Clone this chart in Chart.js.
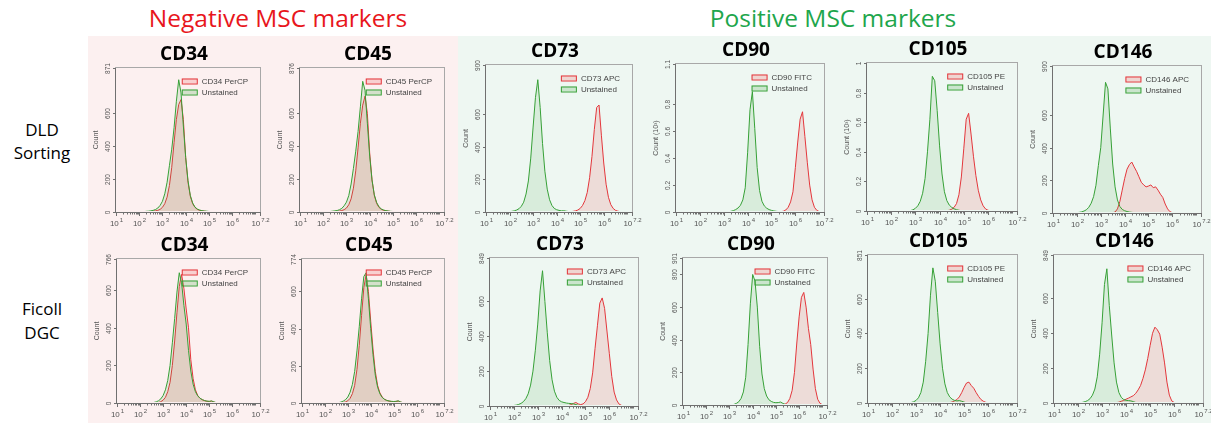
<!DOCTYPE html>
<html>
<head>
<meta charset="utf-8">
<script src="https://cdn.jsdelivr.net/npm/chart.js@4.4.1/dist/chart.umd.min.js"></script>
<style>
  body { margin: 0; background: #fff; }
  #stage { position: relative; width: 1211px; height: 423px; overflow: hidden; font-family: 'Open Sans', sans-serif; }
  .bg { position: absolute; top: 36px; bottom: 0; }
  #negBg { left: 88px; width: 370px; background: #fcf0f0; }
  #posBg { left: 458px; right: 0; background: #eef7f2; }
  .hdr { position: absolute; top: 6px; font-size: 24.5px; line-height: 24px; white-space: nowrap; transform: translateX(-50%); }
  .row { position: absolute; left: 0; width: 84px; font-size: 17px; line-height: 23px; text-align: center; color: #000; }
  canvas { position: absolute; }
</style>
</head>
<body>
<div id="stage">
  <div class="bg" id="negBg"></div>
  <div class="bg" id="posBg"></div>
  <div class="hdr" style="left:278px;color:#e8161c">Negative MSC markers</div>
  <div class="hdr" style="left:833px;color:#1ea64c">Positive MSC markers</div>
  <div class="row" style="top:118px">DLD<br>Sorting</div>
  <div class="row" style="top:297px;line-height:24px">Ficoll<br>DGC</div>
</div>
<script>
// log10 of fluorescence intensity, one bin every 0.1 decade
const logBins = [
  1.0, 1.1, 1.2, 1.3, 1.4, 1.5, 1.6, 1.7, 1.8, 1.9,
  2.0, 2.1, 2.2, 2.3, 2.4, 2.5, 2.6, 2.7, 2.8, 2.9,
  3.0, 3.1, 3.2, 3.3, 3.4, 3.5, 3.6, 3.7, 3.8, 3.9,
  4.0, 4.1, 4.2, 4.3, 4.4, 4.5, 4.6, 4.7, 4.8, 4.9,
  5.0, 5.1, 5.2, 5.3, 5.4, 5.5, 5.6, 5.7, 5.8, 5.9,
  6.0, 6.1, 6.2, 6.3, 6.4, 6.5, 6.6, 6.7, 6.8, 6.9,
  7.0, 7.1, 7.2
];
const xTickValues = [1, 2, 3, 4, 5, 6, 7.2];
const xTickExponents = ['1', '2', '3', '4', '5', '6', '7.2'];

const markers = ['CD34', 'CD45', 'CD73', 'CD90', 'CD105', 'CD146'];
const stainLabels = ['CD34 PerCP', 'CD45 PerCP', 'CD73 APC', 'CD90 FITC', 'CD105 PE', 'CD146 APC'];

const dldYMax = [871, 876, 900, 1100, 1000, 900];
const dldYTicks = [
  [0, 200, 400, 600, 871],
  [0, 200, 400, 600, 876],
  [0, 200, 400, 600, 900],
  [0, 200, 400, 600, 800, 1100],
  [0, 200, 400, 600, 800, 1000],
  [0, 200, 400, 600, 900]
];
const dldPerThousand = [false, false, false, true, true, false];

const ficollYMax = [766, 774, 849, 901, 851, 849];
const ficollYTicks = [
  [0, 200, 400, 600, 766],
  [0, 200, 400, 600, 774],
  [0, 200, 400, 600, 849],
  [0, 200, 400, 600, 800, 901],
  [0, 200, 400, 600, 851],
  [0, 200, 400, 600, 849]
];

// ---- DLD sorting ----
const dldCD34PerCP = [
  0, 0, 0, 0, 0, 0, 0, 0, 0, 0,
  0, 0, 0, 1, 2, 3, 5, 7, 10, 16,
  28, 50, 90, 160, 270, 420, 560, 650, 680, 560,
  330, 180, 95, 50, 28, 16, 10, 7, 5, 3,
  2, 0, 0, 0, 0, 0, 0, 0, 0, 0,
  0, 0, 0, 0, 0, 0, 0, 0, 0, 0,
  0, 0, 0
];
const dldCD34Unstained = [
  0, 0, 0, 0, 0, 0, 0, 0, 0, 0,
  0, 1, 2, 4, 5, 7, 10, 15, 24, 40,
  65, 110, 180, 280, 380, 510, 670, 800, 720, 520,
  330, 190, 100, 55, 30, 18, 12, 8, 6, 5,
  3, 1, 0, 0, 0, 0, 0, 0, 0, 0,
  0, 0, 0, 0, 0, 0, 0, 0, 0, 0,
  0, 0, 0
];
const dldCD45PerCP = [
  0, 0, 0, 0, 0, 0, 0, 0, 0, 0,
  0, 0, 0, 1, 2, 3, 4, 6, 9, 14,
  24, 44, 80, 145, 250, 390, 540, 650, 705, 600,
  360, 195, 100, 52, 28, 16, 10, 7, 5, 3,
  2, 0, 0, 0, 0, 0, 0, 0, 0, 0,
  0, 0, 0, 0, 0, 0, 0, 0, 0, 0,
  0, 0, 0
];
const dldCD45Unstained = [
  0, 0, 0, 0, 0, 0, 0, 0, 0, 0,
  0, 1, 2, 3, 5, 7, 9, 14, 22, 38,
  60, 100, 170, 265, 370, 490, 640, 795, 740, 540,
  340, 195, 105, 58, 32, 19, 12, 8, 6, 4,
  3, 1, 0, 0, 0, 0, 0, 0, 0, 0,
  0, 0, 0, 0, 0, 0, 0, 0, 0, 0,
  0, 0, 0
];
const dldCD73APC = [
  0, 0, 0, 0, 0, 0, 0, 0, 0, 0,
  0, 0, 0, 0, 0, 0, 0, 0, 0, 0,
  0, 0, 0, 0, 0, 0, 0, 0, 0, 0,
  0, 0, 0, 0, 0, 1, 2, 4, 7, 12,
  22, 40, 70, 120, 210, 340, 505, 640, 655, 470,
  300, 170, 90, 45, 22, 10, 5, 2, 0, 0,
  0, 0, 0
];
const dldCD73Unstained = [
  0, 0, 0, 0, 0, 0, 0, 0, 0, 1,
  2, 4, 7, 12, 20, 35, 60, 110, 190, 330,
  520, 700, 810, 640, 420, 250, 140, 75, 40, 22,
  14, 10, 7, 8, 5, 3, 1, 0, 0, 0,
  0, 0, 0, 0, 0, 0, 0, 0, 0, 0,
  0, 0, 0, 0, 0, 0, 0, 0, 0, 0,
  0, 0, 0
];
const dldCD90FITC = [
  0, 0, 0, 0, 0, 0, 0, 0, 0, 0,
  0, 0, 0, 0, 0, 0, 0, 0, 0, 0,
  0, 0, 0, 0, 0, 0, 0, 0, 0, 0,
  0, 0, 0, 0, 0, 0, 0, 0, 0, 0,
  0, 0, 0, 0, 2, 6, 15, 35, 75, 150,
  330, 520, 690, 745, 560, 370, 200, 90, 35, 12,
  3, 0, 0
];
const dldCD90Unstained = [
  0, 0, 0, 0, 0, 0, 0, 0, 0, 0,
  0, 0, 0, 0, 0, 0, 0, 0, 0, 0,
  0, 0, 2, 5, 10, 18, 30, 50, 90, 180,
  440, 760, 895, 620, 330, 160, 80, 45, 28, 18,
  12, 8, 5, 3, 1, 0, 0, 0, 0, 0,
  0, 0, 0, 0, 0, 0, 0, 0, 0, 0,
  0, 0, 0
];
const dldCD105PE = [
  0, 0, 0, 0, 0, 0, 0, 0, 0, 0,
  0, 0, 0, 0, 0, 0, 0, 0, 0, 0,
  0, 0, 0, 0, 0, 0, 0, 0, 0, 0,
  0, 0, 0, 2, 5, 12, 25, 50, 110, 230,
  420, 620, 660, 520, 370, 240, 140, 75, 35, 14,
  5, 1, 0, 0, 0, 0, 0, 0, 0, 0,
  0, 0, 0
];
const dldCD105Unstained = [
  0, 0, 0, 0, 0, 0, 0, 0, 0, 0,
  0, 0, 0, 0, 0, 0, 0, 1, 3, 8,
  18, 35, 65, 120, 220, 400, 620, 910, 880, 680,
  440, 250, 130, 70, 40, 25, 15, 9, 5, 2,
  0, 0, 0, 0, 0, 0, 0, 0, 0, 0,
  0, 0, 0, 0, 0, 0, 0, 0, 0, 0,
  0, 0, 0
];
const dldCD146APC = [
  0, 0, 0, 0, 0, 0, 0, 0, 0, 0,
  0, 0, 0, 0, 0, 0, 0, 0, 0, 0,
  0, 0, 0, 0, 0, 2, 6, 25, 70, 140,
  210, 268, 296, 312, 282, 255, 222, 188, 172, 160,
  165, 172, 155, 160, 140, 115, 95, 55, 25, 8,
  2, 0, 0, 0, 0, 0, 0, 0, 0, 0,
  0, 0, 0
];
const dldCD146Unstained = [
  0, 0, 0, 0, 0, 0, 0, 0, 0, 1,
  2, 4, 7, 12, 20, 35, 60, 100, 170, 290,
  400, 600, 800, 760, 520, 300, 160, 80, 40, 22,
  14, 9, 6, 4, 2, 0, 0, 0, 0, 0,
  0, 0, 0, 0, 0, 0, 0, 0, 0, 0,
  0, 0, 0, 0, 0, 0, 0, 0, 0, 0,
  0, 0, 0
];

// ---- Ficoll DGC ----
const ficollCD34PerCP = [
  0, 0, 0, 0, 0, 0, 0, 0, 0, 0,
  0, 0, 0, 0, 0, 0, 0, 1, 3, 7,
  15, 30, 60, 110, 200, 330, 480, 620, 684, 610,
  500, 400, 230, 130, 70, 40, 25, 17, 12, 9,
  8, 10, 5, 1, 0, 0, 0, 0, 0, 0,
  0, 0, 0, 0, 0, 0, 0, 0, 0, 0,
  0, 0, 0
];
const ficollCD34Unstained = [
  0, 0, 0, 0, 0, 0, 0, 0, 0, 0,
  0, 0, 0, 0, 0, 1, 3, 6, 12, 22,
  40, 70, 120, 200, 320, 450, 590, 693, 640, 520,
  420, 280, 170, 100, 60, 38, 25, 18, 13, 10,
  9, 11, 6, 2, 0, 0, 0, 0, 0, 0,
  0, 0, 0, 0, 0, 0, 0, 0, 0, 0,
  0, 0, 0
];
const ficollCD45PerCP = [
  0, 0, 0, 0, 0, 0, 0, 0, 0, 0,
  0, 0, 0, 0, 0, 0, 0, 1, 3, 6,
  12, 25, 50, 95, 180, 310, 470, 620, 690, 600,
  440, 290, 170, 95, 55, 32, 20, 14, 10, 8,
  7, 8, 10, 5, 1, 0, 0, 0, 0, 0,
  0, 0, 0, 0, 0, 0, 0, 0, 0, 0,
  0, 0, 0
];
const ficollCD45Unstained = [
  0, 0, 0, 0, 0, 0, 0, 0, 0, 0,
  0, 0, 0, 0, 0, 1, 2, 5, 10, 18,
  32, 58, 100, 170, 280, 410, 560, 680, 700, 560,
  400, 260, 150, 85, 50, 30, 20, 14, 11, 9,
  8, 9, 12, 6, 2, 0, 0, 0, 0, 0,
  0, 0, 0, 0, 0, 0, 0, 0, 0, 0,
  0, 0, 0
];
const ficollCD73APC = [
  0, 0, 0, 0, 0, 0, 0, 0, 0, 0,
  0, 0, 0, 0, 0, 0, 0, 0, 0, 0,
  0, 0, 0, 0, 0, 0, 0, 0, 0, 0,
  0, 0, 0, 3, 8, 15, 20, 12, 8, 12,
  25, 50, 100, 190, 330, 460, 590, 620, 560, 430,
  300, 170, 80, 35, 12, 4, 1, 0, 0, 0,
  0, 0, 0
];
const ficollCD73Unstained = [
  0, 0, 0, 0, 0, 0, 0, 0, 0, 1,
  3, 5, 9, 15, 25, 42, 70, 120, 200, 320,
  470, 660, 776, 600, 420, 260, 150, 85, 50, 32,
  24, 20, 17, 15, 14, 12, 8, 4, 2, 0,
  0, 0, 0, 0, 0, 0, 0, 0, 0, 0,
  0, 0, 0, 0, 0, 0, 0, 0, 0, 0,
  0, 0, 0
];
const ficollCD90FITC = [
  0, 0, 0, 0, 0, 0, 0, 0, 0, 0,
  0, 0, 0, 0, 0, 0, 0, 0, 0, 0,
  0, 0, 0, 0, 0, 0, 0, 0, 0, 0,
  0, 0, 0, 0, 0, 0, 0, 0, 0, 0,
  0, 0, 0, 2, 6, 15, 40, 90, 200, 380,
  540, 660, 690, 600, 470, 370, 220, 100, 35, 10,
  2, 0, 0
];
const ficollCD90Unstained = [
  0, 0, 0, 0, 0, 0, 0, 0, 0, 0,
  0, 0, 0, 0, 0, 0, 0, 0, 0, 0,
  0, 1, 4, 10, 20, 40, 80, 170, 370, 620,
  800, 760, 600, 360, 190, 100, 55, 32, 22, 16,
  14, 15, 18, 10, 3, 0, 0, 0, 0, 0,
  0, 0, 0, 0, 0, 0, 0, 0, 0, 0,
  0, 0, 0
];
const ficollCD105PE = [
  0, 0, 0, 0, 0, 0, 0, 0, 0, 0,
  0, 0, 0, 0, 0, 0, 0, 0, 0, 0,
  0, 0, 0, 0, 0, 0, 0, 0, 0, 0,
  0, 0, 0, 0, 2, 6, 12, 20, 35, 60,
  90, 115, 120, 100, 85, 60, 38, 20, 10, 4,
  1, 0, 0, 0, 0, 0, 0, 0, 0, 0,
  0, 0, 0
];
const ficollCD105Unstained = [
  0, 0, 0, 0, 0, 0, 0, 0, 0, 0,
  0, 0, 0, 0, 0, 0, 0, 1, 3, 7,
  15, 30, 60, 120, 240, 400, 620, 777, 700, 520,
  340, 200, 110, 60, 35, 22, 15, 12, 14, 10,
  5, 1, 0, 0, 0, 0, 0, 0, 0, 0,
  0, 0, 0, 0, 0, 0, 0, 0, 0, 0,
  0, 0, 0
];
const ficollCD146APC = [
  0, 0, 0, 0, 0, 0, 0, 0, 0, 0,
  0, 0, 0, 0, 0, 0, 0, 0, 0, 0,
  0, 0, 0, 0, 0, 0, 2, 5, 10, 15,
  22, 28, 35, 42, 55, 75, 100, 140, 190, 255,
  330, 400, 435, 420, 395, 320, 230, 120, 45, 12,
  3, 0, 0, 0, 0, 0, 0, 0, 0, 0,
  0, 0, 0
];
const ficollCD146Unstained = [
  0, 0, 0, 0, 0, 0, 0, 0, 0, 0,
  1, 2, 4, 8, 14, 25, 45, 80, 150, 280,
  460, 680, 770, 560, 390, 230, 120, 60, 32, 20,
  15, 14, 12, 8, 3, 1, 0, 0, 0, 0,
  0, 0, 0, 0, 0, 0, 0, 0, 0, 0,
  0, 0, 0, 0, 0, 0, 0, 0, 0, 0,
  0, 0, 0
];

const dldStained = [dldCD34PerCP, dldCD45PerCP, dldCD73APC, dldCD90FITC, dldCD105PE, dldCD146APC];
const dldUnstained = [dldCD34Unstained, dldCD45Unstained, dldCD73Unstained, dldCD90Unstained, dldCD105Unstained, dldCD146Unstained];
const ficollStained = [ficollCD34PerCP, ficollCD45PerCP, ficollCD73APC, ficollCD90FITC, ficollCD105PE, ficollCD146APC];
const ficollUnstained = [ficollCD34Unstained, ficollCD45Unstained, ficollCD73Unstained, ficollCD90Unstained, ficollCD105Unstained, ficollCD146Unstained];

// plot boxes in page pixels: left, top, right, bottom
const dldBoxes = [
  [116, 68, 260, 212], [300, 68, 444, 212], [486, 65, 632, 212],
  [676, 64, 824, 212], [867, 63, 1017, 211], [1053, 66, 1201, 213]
];
const ficollBoxes = [
  [117, 259, 260, 403], [302, 259, 444, 403], [490, 258, 638, 406],
  [683, 258, 827, 405], [868, 255, 1017, 403], [1054, 255, 1203, 403]
];

const redLine = '#e3363b', redFill = 'rgba(232, 100, 100, 0.18)';
const greenLine = '#36a036', greenFill = 'rgba(70, 165, 70, 0.13)';
const tickFont = '"Liberation Sans", Arial, sans-serif';

const panelDecor = {
  id: 'panelDecor',
  afterDraw(chart, args, o) {
    const { ctx, chartArea: a } = chart;
    const xs = chart.scales.x, ys = chart.scales.y;
    ctx.save();

    // frame
    ctx.lineWidth = 1;
    ctx.strokeStyle = '#a8a8a8';
    ctx.strokeRect(a.left - 0.5, a.top - 0.5, a.right - a.left + 1, a.bottom - a.top + 1);
    ctx.strokeStyle = '#707070';
    ctx.beginPath();
    ctx.moveTo(a.left - 0.5, a.top);
    ctx.lineTo(a.left - 0.5, a.bottom + 0.5);
    ctx.lineTo(a.right, a.bottom + 0.5);
    ctx.stroke();

    // x minor ticks
    ctx.beginPath();
    for (let d = 1; d <= 7; d++) {
      for (let k = 1; k <= 9; k++) {
        const v = d + Math.log10(k);
        if (v > 7.2) break;
        const px = Math.round(xs.getPixelForValue(v)) + 0.5;
        ctx.moveTo(px, a.bottom);
        ctx.lineTo(px, a.bottom + 2.5);
      }
    }
    ctx.stroke();

    // x major ticks + labels
    ctx.fillStyle = '#555';
    ctx.textBaseline = 'alphabetic';
    ctx.textAlign = 'left';
    xTickValues.forEach((v, i) => {
      const px = Math.round(xs.getPixelForValue(v)) + 0.5;
      ctx.beginPath();
      ctx.moveTo(px, a.bottom);
      ctx.lineTo(px, a.bottom + 4);
      ctx.stroke();
      const exp = xTickExponents[i];
      ctx.font = '8px ' + tickFont;
      const w1 = ctx.measureText('10').width;
      ctx.font = '6px ' + tickFont;
      const w2 = ctx.measureText(exp).width;
      const x0 = px - (w1 + w2 + 1) / 2;
      ctx.font = '8px ' + tickFont;
      ctx.fillText('10', x0, a.bottom + 14);
      ctx.font = '6px ' + tickFont;
      ctx.fillText(exp, x0 + w1 + 1, a.bottom + 10);
    });

    // y ticks + rotated labels
    ctx.font = '6.5px ' + tickFont;
    o.yTicks.forEach(v => {
      const py = Math.round(ys.getPixelForValue(v)) + 0.5;
      ctx.beginPath();
      ctx.moveTo(a.left - 3, py);
      ctx.lineTo(a.left, py);
      ctx.stroke();
      const label = o.perThousand ? String(v / 1000) : String(v);
      ctx.save();
      ctx.translate(a.left - 5, py);
      ctx.rotate(-Math.PI / 2);
      ctx.textAlign = 'center';
      ctx.textBaseline = 'bottom';
      ctx.fillText(label, 0, 0);
      ctx.restore();
    });

    // y title
    ctx.save();
    ctx.font = '7px ' + tickFont;
    ctx.translate(a.left - 20, (a.top + a.bottom) / 2);
    ctx.rotate(-Math.PI / 2);
    ctx.textAlign = 'center';
    ctx.textBaseline = 'middle';
    ctx.fillText(o.perThousand ? 'Count (10\u00b3)' : 'Count', 0, 0);
    ctx.restore();

    // legend
    ctx.font = '8px ' + tickFont;
    const tw = Math.max(ctx.measureText(o.stain).width, ctx.measureText('Unstained').width);
    const lx = a.right - 12 - tw - 20;
    [[o.stain, redLine, 'rgba(240, 150, 150, 0.35)'], ['Unstained', greenLine, 'rgba(120, 190, 120, 0.3)']]
      .forEach(([txt, stroke, fill], i) => {
        const ry = Math.round(a.top + 13 + i * 10.5);
        ctx.fillStyle = fill;
        ctx.fillRect(lx, ry - 2.5, 16, 5);
        ctx.strokeStyle = stroke;
        ctx.strokeRect(lx + 0.5, ry - 2, 15, 5);
        ctx.fillStyle = '#444';
        ctx.textAlign = 'left';
        ctx.textBaseline = 'middle';
        ctx.fillText(txt, lx + 20, ry + 0.5);
      });

    // panel title
    ctx.fillStyle = '#000';
    ctx.font = 'bold 19px "Open Sans", sans-serif';
    ctx.textAlign = 'center';
    ctx.textBaseline = 'middle';
    ctx.fillText(o.title, (a.left + a.right) / 2 - 4, a.top - 13);

    ctx.restore();
  }
};

function drawPanel(box, cfg) {
  const [l, t, r, b] = box;
  const pad = { left: 40, top: 32, right: 16, bottom: 20 };
  const cv = document.createElement('canvas');
  const w = r - l + pad.left + pad.right;
  const h = b - t + pad.top + pad.bottom;
  cv.width = w;
  cv.height = h;
  cv.style.left = (l - pad.left) + 'px';
  cv.style.top = (t - pad.top) + 'px';
  cv.style.width = w + 'px';
  cv.style.height = h + 'px';
  document.getElementById('stage').appendChild(cv);

  const toPoints = counts => counts.map((c, i) => ({ x: logBins[i], y: c }));

  new Chart(cv, {
    type: 'line',
    data: {
      datasets: [
        {
          label: 'Unstained',
          data: toPoints(cfg.unstained),
          borderColor: greenLine,
          backgroundColor: greenFill,
          borderWidth: 1,
          fill: 'origin',
          clip: { left: 0, top: 0, right: 0, bottom: -1 }
        },
        {
          label: cfg.stain,
          data: toPoints(cfg.stained),
          borderColor: redLine,
          backgroundColor: redFill,
          borderWidth: 1,
          fill: 'origin',
          clip: { left: 0, top: 0, right: 0, bottom: -1 }
        }
      ]
    },
    options: {
      responsive: false,
      animation: false,
      devicePixelRatio: 1,
      layout: { padding: pad },
      elements: { point: { radius: 0 }, line: { tension: 0 } },
      scales: {
        x: { type: 'linear', min: 1, max: 7.2, display: false },
        y: { type: 'linear', min: 0, max: cfg.yMax, display: false }
      },
      plugins: {
        legend: { display: false },
        tooltip: { enabled: false },
        panelDecor: cfg
      }
    },
    plugins: [panelDecor]
  });
}

markers.forEach((m, i) => {
  drawPanel(dldBoxes[i], {
    title: m, stain: stainLabels[i], yMax: dldYMax[i], yTicks: dldYTicks[i],
    perThousand: dldPerThousand[i], stained: dldStained[i], unstained: dldUnstained[i]
  });
  drawPanel(ficollBoxes[i], {
    title: m, stain: stainLabels[i], yMax: ficollYMax[i], yTicks: ficollYTicks[i],
    perThousand: false, stained: ficollStained[i], unstained: ficollUnstained[i]
  });
});
</script>
</body>
</html>
